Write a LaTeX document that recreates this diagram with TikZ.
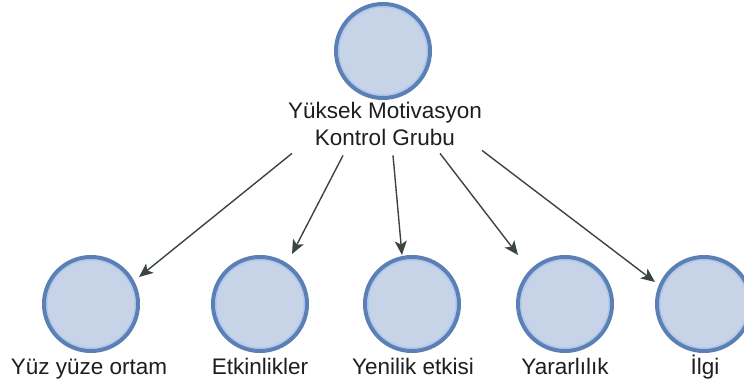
\documentclass[tikz,border=0pt]{standalone}
\usepackage{fontspec}
\setmainfont{Liberation Sans}
\usetikzlibrary{arrows.meta,calc}
\definecolor{ringblue}{HTML}{5A80B6}
\definecolor{fillblue}{HTML}{C7D3E6}
\definecolor{innerblue}{HTML}{AFC8EE}
\definecolor{arrowgrey}{HTML}{3A463F}
\definecolor{textgrey}{HTML}{1E1E1E}
\begin{document}
\begin{tikzpicture}[x=1pt,y=-1pt,
  bubble/.style={circle, draw=ringblue, fill=fillblue, line width=4pt,
    minimum size=94pt, inner sep=0pt,
    path picture={\draw[innerblue, line width=1.3pt]
      (path picture bounding box.center) circle (44pt);}},
  caption/.style={text=textgrey, font=\fontsize{22.5}{27}\selectfont, inner sep=0pt},
  link/.style={draw=arrowgrey, line width=1.4pt,
    -{Stealth[length=14pt,width=12pt,inset=3.5pt]}}]
  \useasboundingbox[fill=white] (0,0) rectangle (744,387);

  % central group
  \node[bubble] (top) at (383,51) {};
  \node[caption, align=center, anchor=base] (toplbl) at (385,146)
    {Yüksek Motivasyon\\Kontrol Grubu};

  % sub-factors
  \node[bubble] (c1) at (91,304) {};
  \node[bubble] (c2) at (260,304) {};
  \node[bubble] (c3) at (412,304) {};
  \node[bubble] (c4) at (565,304) {};
  \node[bubble] (c5) at (704,304) {};

  \node[caption, anchor=base] (l1) at (89,374) {Yüz yüze ortam};
  \node[caption, anchor=base] (l2) at (260,374) {Etkinlikler};
  \node[caption, anchor=base] (l3) at (413,374) {Yenilik etkisi};
  \node[caption, anchor=base] (l4) at (565,374) {Yararlılık};
  \node[caption, anchor=base] (l5) at (705,374) {İlgi};

  % links from the group to each factor
  \draw[link] ($(toplbl.south)+(-93,7)$) -- ($(c1)+(48,-27)$);
  \draw[link] ($(toplbl.south)+(-42,9)$) -- ($(c2)+(32,-50)$);
  \draw[link] ($(toplbl.south)+(8,9)$)   -- ($(c3)+(-10,-49)$);
  \draw[link] ($(toplbl.south)+(55,7)$)  -- ($(c4)+(-47,-49)$);
  \draw[link] ($(toplbl.south)+(97,4)$)  -- ($(c5)+(-49,-22)$);
\end{tikzpicture}
\end{document}
